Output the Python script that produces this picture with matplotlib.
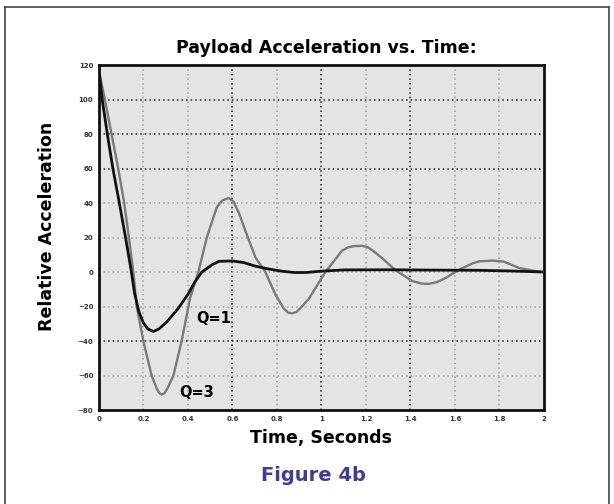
import matplotlib.pyplot as plt
from matplotlib.lines import Line2D

# Q=1 response (black)
t_q1 = [0.0, 0.015, 0.038, 0.063, 0.092, 0.12, 0.145, 0.16, 0.18, 0.2,
        0.22, 0.245, 0.27, 0.305, 0.357, 0.40, 0.43, 0.463, 0.51, 0.54,
        0.60, 0.65, 0.70, 0.76, 0.82, 0.88, 0.93, 1.0, 1.1, 1.3, 1.5, 1.7,
        1.85, 2.0]
a_q1 = [118, 100, 80, 60, 40, 20, 1, -12, -23, -29.5,
        -33, -34.5, -33, -29, -21, -13, -6, 0, 4.3, 6.2,
        6.4, 5.5, 3.5, 1.8, 0.5, -0.3, -0.3, 0.5, 1.2, 1.3, 1.1, 1.0,
        0.6, 0.0]

# Q=3 response (gray)
t_q3 = [0.0, 0.027, 0.057, 0.087, 0.114, 0.135, 0.155, 0.17, 0.2, 0.237,
        0.26, 0.272, 0.282, 0.295, 0.31, 0.335, 0.372, 0.41, 0.447, 0.485,
        0.53, 0.555, 0.583, 0.605, 0.63, 0.658, 0.703, 0.748, 0.793, 0.83,
        0.85, 0.868, 0.888, 0.905, 0.943, 1.018, 1.093, 1.12, 1.145, 1.18,
        1.207, 1.235, 1.273, 1.333, 1.409, 1.45, 1.483, 1.52, 1.559, 1.618,
        1.679, 1.71, 1.77, 1.82, 1.889, 1.95, 2.0]
a_q3 = [117, 100, 80, 60, 40, 20, 0, -20, -40, -60,
        -67.5, -70.2, -71, -70.3, -67, -60, -40, -15, 0, 20,
        37.6, 41.5, 42.9, 40.8, 34, 24, 8.6, 0, -13, -21,
        -23.5, -24, -23.2, -21, -15.6, 0, 12.4, 14.3, 15, 15.2,
        14.5, 12, 8, 1, -5.3, -6.7, -6.9, -5.8, -3.4, 1.3,
        5, 6.2, 6.6, 6, 2.3, 0.8, 0]

x_ticks = [0, 0.2, 0.4, 0.6, 0.8, 1.0, 1.2, 1.4, 1.6, 1.8, 2.0]
x_tick_labels = ['0', '0.2', '0.4', '0.6', '0.8', '1', '1.2', '1.4', '1.6', '1.8', '2']
y_ticks = [-80, -60, -40, -20, 0, 20, 40, 60, 80, 100, 120]

# grid lines drawn darker in the original
dark_x = [0.6, 1.0, 1.4]
dark_y = [100, 80, 60, -40]

fig = plt.figure(figsize=(6.14, 5.04), dpi=100)
ax = fig.add_axes([0.161, 0.1865, 0.725, 0.6845])
ax.set_facecolor('#e4e4e4')

for xv in x_ticks[1:-1]:
    c = '#222222' if xv in dark_x else '#a0a0a0'
    ax.axvline(xv, color=c, linestyle=(0, (1, 2)), linewidth=1.1, zorder=1)
for yv in y_ticks[1:-1]:
    c = '#222222' if yv in dark_y else '#a0a0a0'
    ax.axhline(yv, color=c, linestyle=(0, (1, 2)), linewidth=1.1, zorder=1)

ax.plot(t_q3, a_q3, color='#7a7a7a', linewidth=1.7, zorder=3)
ax.plot(t_q1, a_q1, color='#111111', linewidth=2.0, zorder=4)

ax.text(0.514, -27, 'Q=1', fontsize=10.5, fontweight='heavy', ha='center', va='center', zorder=5)
ax.text(0.44, -70, 'Q=3', fontsize=10.5, fontweight='heavy', ha='center', va='center', zorder=5)

ax.set_xlim(0, 2)
ax.set_ylim(-80, 120)
ax.set_xticks(x_ticks)
ax.set_xticklabels(x_tick_labels)
ax.set_yticks(y_ticks)
ax.tick_params(length=0, labelsize=5, labelcolor='#333333', pad=4)
for lbl in ax.get_xticklabels() + ax.get_yticklabels():
    lbl.set_fontweight('bold')
for s in ax.spines.values():
    s.set_linewidth(2)
    s.set_color('#111111')

ax.set_xlabel('Time, Seconds', fontsize=12.5, fontweight='bold', labelpad=5)
fig.text(0.0765, 0.55, 'Relative Acceleration', rotation=90, fontsize=12.5,
         fontweight='bold', ha='center', va='center')
fig.text(0.532, 0.905, 'Payload Acceleration vs. Time:', fontsize=12.5,
         fontweight='bold', ha='center', va='center')
fig.text(0.511, 0.056, 'Figure 4b', fontsize=14, fontweight='bold',
         color='#3c3ca0', ha='center', va='center')

# thin frame around the whole figure (open at the bottom)
px, py = 1 / 614, 1 / 504
for xs, ys in [([5 * px, 5 * px], [0, 1 - 7 * py]),
               ([5 * px, 609 * px], [1 - 7 * py, 1 - 7 * py]),
               ([609 * px, 609 * px], [1 - 7 * py, 0])]:
    fig.add_artist(Line2D(xs, ys, color='#444444', linewidth=1.2))

fig.savefig('out.png', dpi=100)
